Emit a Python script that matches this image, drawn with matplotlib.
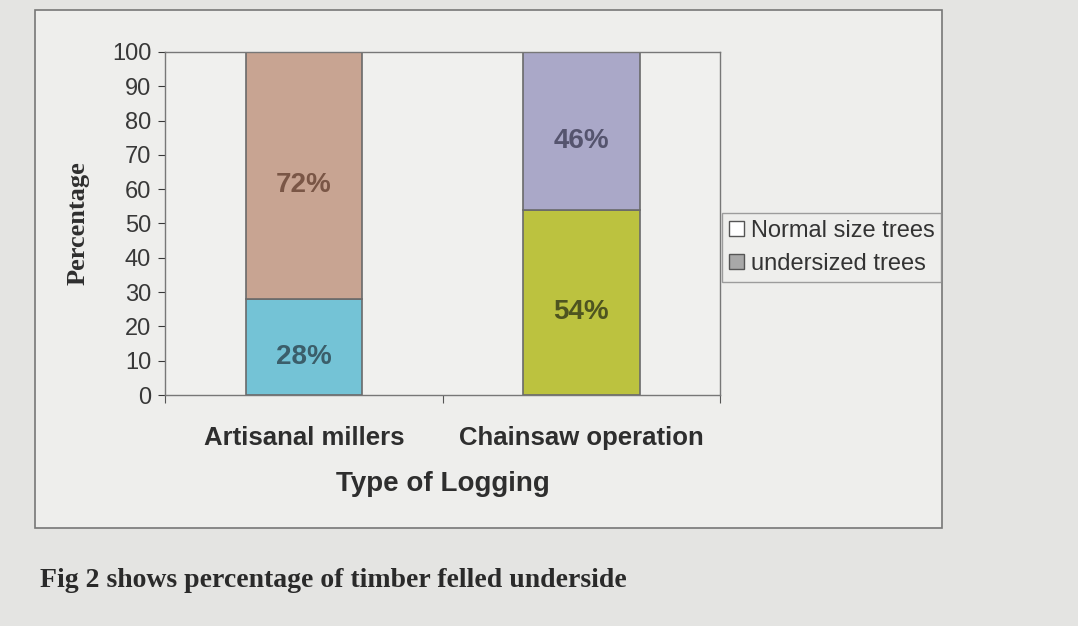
import numpy as np
import matplotlib.pyplot as plt
from matplotlib.patches import Rectangle, Patch

categories = ['Artisanal millers', 'Chainsaw operation']
undersized = [28, 54]
normal = [72, 46]
series_names = ['Normal size trees', 'undersized trees']

# colours per point (Excel "vary colours by point")
under_colors = ['#74c3d6', '#bcc23f']
normal_colors = ['#c8a492', '#aaa8c8']
under_text = ['#3b5e6a', '#4e5420']
normal_text = ['#7a5646', '#55546e']

plt.rcParams['font.family'] = ['Liberation Sans', 'DejaVu Sans']

fig = plt.figure(figsize=(10.78, 6.26), dpi=100)
fig.patch.set_facecolor('#e4e4e2')

# outer chart frame
fig.add_artist(Rectangle((0.0325, 0.1565), 0.8414, 0.8275, transform=fig.transFigure,
                         facecolor='#eeeeec', edgecolor='#777777', linewidth=1.2, zorder=0))

ax = fig.add_axes([0.1531, 0.369, 0.515, 0.548])
ax.set_facecolor('#f0f0ee')

x = np.arange(len(categories))
w = 0.42
b1 = ax.bar(x, undersized, w, color=under_colors, edgecolor='#6a6a6a', linewidth=1.2)
b2 = ax.bar(x, normal, w, bottom=undersized, color=normal_colors, edgecolor='#6a6a6a', linewidth=1.2)

for bars, cols in [(b1, under_text), (b2, normal_text)]:
    txts = ax.bar_label(bars, fmt='%d%%', label_type='center', fontsize=20, fontweight='bold')
    for t, c in zip(txts, cols):
        t.set_color(c)
        t.xyann = (0, -7)  # labels sit a little below centre in the original

ax.set_xlim(-0.5, 1.5)
ax.set_ylim(0, 100)
ax.set_yticks(np.arange(0, 101, 10))
ax.tick_params(axis='y', labelsize=17, colors='#383838', length=5, direction='out', pad=5)
ax.set_xticks([-0.5, 0.5, 1.5])
ax.set_xticklabels([])
ax.tick_params(axis='x', length=6, direction='out', colors='#555555')
for i, c in enumerate(categories):
    ax.text(x[i], -9, c, ha='center', va='top', fontsize=18.5, fontweight='bold',
            color='#2e2e2e', transform=ax.transData)

for s in ax.spines.values():
    s.set_color('#777777')
    s.set_linewidth(1)

ax.text(0.5, -0.222, 'Type of Logging', transform=ax.transAxes, ha='center', va='top',
        fontsize=20, fontweight='bold', color='#2e2e2e')
ax.set_ylabel('Percentage', family=['Liberation Serif', 'DejaVu Serif'], fontsize=19,
              fontweight='bold', color='#2e2e2e', labelpad=16)

handles = [Patch(facecolor='white', edgecolor='#555555'),
           Patch(facecolor='#a8a8a8', edgecolor='#555555')]
leg = fig.legend(handles, series_names, loc='upper left', bbox_to_anchor=(0.67, 0.66),
                 fontsize=17, frameon=True, fancybox=False, handlelength=0.6, handleheight=0.6,
                 handletextpad=0.3, borderpad=0.3, labelspacing=0.45, borderaxespad=0)
leg.get_frame().set_edgecolor('#888888')
leg.get_frame().set_facecolor('#efefed')
for t in leg.get_texts():
    t.set_color('#333333')

fig.text(0.037, 0.072, 'Fig 2 shows percentage of timber felled underside',
         family=['Liberation Serif', 'DejaVu Serif'], fontsize=20, fontweight='bold',
         color='#2a2a2a', ha='left', va='center')

fig.savefig('out.png', dpi=100, facecolor=fig.get_facecolor())
